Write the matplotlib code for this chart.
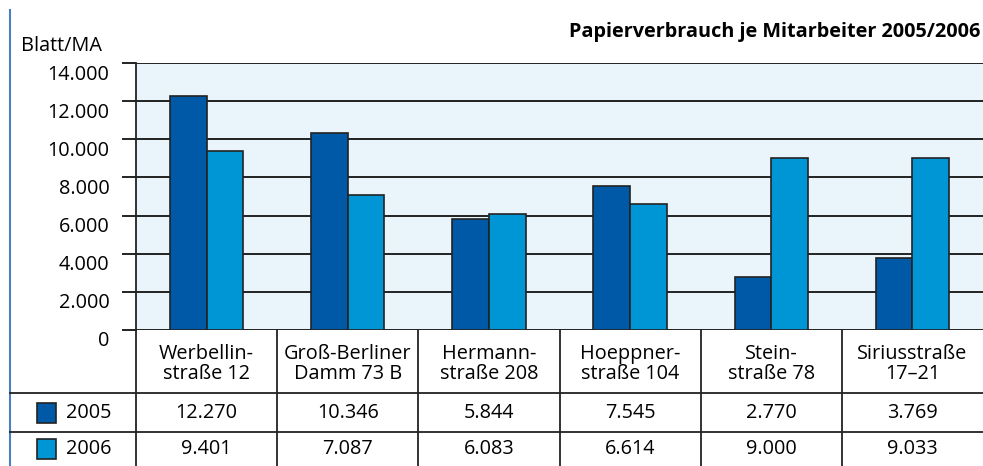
import matplotlib
matplotlib.use("Agg")
import matplotlib.pyplot as plt
import matplotlib.transforms as mtransforms
from matplotlib.lines import Line2D
from matplotlib.patches import Rectangle

categories = ["Werbellin-\nstraße 12", "Groß-Berliner\nDamm 73 B", "Hermann-\nstraße 208",
              "Hoeppner-\nstraße 104", "Stein-\nstraße 78", "Siriusstraße\n17–21"]
series_names = ["2005", "2006"]
values_2005 = [12270, 10346, 5844, 7545, 2770, 3769]
values_2006 = [9401, 7087, 6083, 6614, 9000, 9033]
yticks = [0, 2000, 4000, 6000, 8000, 10000, 12000, 14000]
ytick_labels = ["0", "2.000", "4.000", "6.000", "8.000", "10.000", "12.000", "14.000"]
title = "Papierverbrauch je Mitarbeiter 2005/2006"
ylabel = "Blatt/MA"

c2005 = "#0059a6"
c2006 = "#0095d4"
bg = "#eaf4fb"
FONT = ["Open Sans", "DejaVu Sans"]
plt.rcParams["font.family"] = FONT
FS = 14.3

W, H = 983, 466
fig = plt.figure(figsize=(W / 100, H / 100), dpi=100)

def fy(py):
    return 1 - py / H

def fx(px):
    return px / W

ax = fig.add_axes([fx(136), fy(330), 1 - fx(136), fy(63) - fy(330)])
ax.set_facecolor(bg)
ax.set_xlim(-0.5, len(categories) - 0.5)
ax.set_ylim(0, 14000)

x = list(range(len(categories)))
bw = 0.26
ax.bar([i - bw / 2 for i in x], values_2005, width=bw, color=c2005, edgecolor="#222222",
       linewidth=1.2, zorder=3)
ax.bar([i + bw / 2 for i in x], values_2006, width=bw, color=c2006, edgecolor="#222222",
       linewidth=1.2, zorder=3)

ax.set_yticks(yticks)
ax.set_yticklabels(ytick_labels, fontsize=FS)
ax.yaxis.grid(True, color="#111111", linewidth=1.3, zorder=1)
ax.set_axisbelow(True)
ax.tick_params(axis="y", direction="out", length=10.1, width=1.3, color="#111111", pad=9)
ax.set_xticks([])
for s in ["top", "right", "bottom"]:
    ax.spines[s].set_visible(False)
ax.spines["left"].set_color("#222222")
ax.spines["left"].set_linewidth(1.3)
shift = mtransforms.ScaledTranslation(0, -0.09, fig.dpi_scale_trans)
for lab in ax.get_yticklabels():
    lab.set_transform(lab.get_transform() + shift)

# title and y label
fig.text(fx(980), fy(32), title, ha="right", va="center", fontsize=FS, fontweight="bold")
fig.text(fx(21), fy(46), ylabel, ha="left", va="center", fontsize=FS)

# table
trans = mtransforms.blended_transform_factory(ax.transData, fig.transFigure)
fig.add_artist(Line2D([fx(10), fx(10)], [fy(10), fy(466)], color="#4a80c2", linewidth=1.5,
                      transform=fig.transFigure))
fig.add_artist(Line2D([fx(136), fx(136)], [fy(330), fy(466)], color="#222222", linewidth=1.3,
                      transform=fig.transFigure))
for py in [393, 432]:
    fig.add_artist(Line2D([fx(10), 1], [fy(py), fy(py)], color="#222222", linewidth=1.3,
                          transform=fig.transFigure))
for i in range(1, len(categories)):
    fig.add_artist(Line2D([i - 0.5, i - 0.5], [fy(330), fy(466)], color="#222222",
                          linewidth=1.3, transform=trans))

for i, cat in enumerate(categories):
    fig.text(i, fy(364), cat, transform=trans, ha="center", va="center", fontsize=FS,
             linespacing=0.95)
    fig.text(i, fy(413), f"{values_2005[i]:,}".replace(",", "."), transform=trans,
             ha="center", va="center", fontsize=FS)
    fig.text(i, fy(449), f"{values_2006[i]:,}".replace(",", "."), transform=trans,
             ha="center", va="center", fontsize=FS)

for name, col, py in [(series_names[0], c2005, 413), (series_names[1], c2006, 449)]:
    fig.add_artist(Rectangle((fx(37), fy(py + 10)), fx(19), fy(py - 10) - fy(py + 10),
                             facecolor=col, edgecolor="#222222", linewidth=1.2,
                             transform=fig.transFigure))
    fig.text(fx(66), fy(py), name, ha="left", va="center", fontsize=FS)

fig.savefig("out.png", dpi=100)
